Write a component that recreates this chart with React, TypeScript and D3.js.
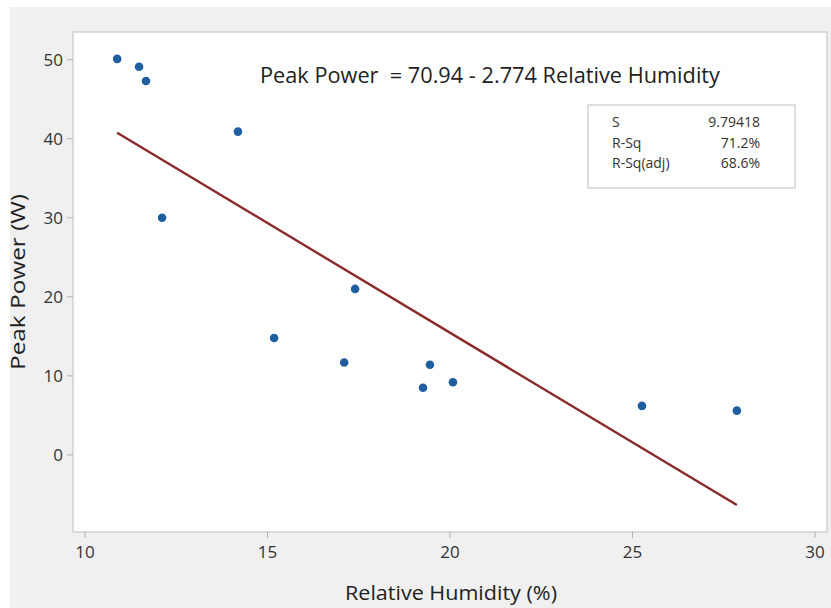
import React from "react";
import * as d3 from "d3";

const humidity = [10.88, 11.48, 11.67, 12.11, 14.19, 15.18, 17.1, 17.4, 19.45, 19.26, 20.08, 25.26, 27.86];
const peakPower = [50.1, 49.1, 47.3, 30.0, 40.9, 14.8, 11.7, 21.0, 11.4, 8.5, 9.2, 6.2, 5.6];
const xTicks = [10, 15, 20, 25, 30];
const yTicks = [0, 10, 20, 30, 40, 50];
const intercept = 70.94;
const slope = -2.774;
const statLabels = ["S", "R-Sq", "R-Sq(adj)"];
const statValues = ["9.79418", "71.2%", "68.6%"];
const equation = "Peak Power  = 70.94 - 2.774 Relative Humidity";
const xTitle = "Relative Humidity (%)";
const yTitle = "Peak Power (W)";

export default function App() {
  const W = 831, H = 608;
  const x = d3.scaleLinear().domain([9.67, 30.33]).range([73, 827]);
  const y = d3.scaleLinear().domain([-9.75, 53.5]).range([532, 32]);
  const [xMin, xMax] = d3.extent(humidity) as [number, number];
  const line = d3.line<number>().x((d) => x(d)).y((d) => y(intercept + slope * d));
  const font = "'Open Sans', 'Noto Sans', sans-serif";
  return (
    <svg width={W} height={H} style={{ position: "absolute", left: 0, top: 0 }} fontFamily={font}>
      <rect x={0} y={0} width={W} height={H} fill="#ffffff" />
      <rect x={10} y={7} width={W - 10} height={H - 7} fill="#f0f0f0" />
      <rect x={73} y={32} width={754} height={500} fill="#ffffff" stroke="#c8c8c8" strokeWidth={1.2} />
      {yTicks.map((t) => (
        <g key={"y" + t}>
          <line x1={67} x2={73} y1={y(t)} y2={y(t)} stroke="#b0b0b0" />
          <text x={63} y={y(t)} dy="0.36em" textAnchor="end" fontSize={17} fill="#333">{t}</text>
        </g>
      ))}
      {xTicks.map((t) => (
        <g key={"x" + t}>
          <line x1={x(t)} x2={x(t)} y1={532} y2={538} stroke="#b0b0b0" />
          <text x={x(t)} y={558} textAnchor="middle" fontSize={17} fill="#333">{t}</text>
        </g>
      ))}
      <path d={line([xMin, xMax]) || ""} stroke="#8b2a2a" strokeWidth={2.4} fill="none" />
      {humidity.map((h, i) => (
        <circle key={i} cx={x(h)} cy={y(peakPower[i])} r={4.3} fill="#1f5f9f" />
      ))}
      <text x={260} y={83} fontSize={21} fill="#222" textLength={460} lengthAdjust="spacingAndGlyphs" style={{ whiteSpace: "pre" }}>{equation}</text>
      <rect x={588} y={105} width={207} height={83} fill="#ffffff" stroke="#bdbdbd" />
      {statLabels.map((s, i) => (
        <g key={s}>
          <text x={612} y={127 + i * 20.5} fontSize={14} fill="#333">{s}</text>
          <text x={760} y={127 + i * 20.5} fontSize={14} fill="#333" textAnchor="end">{statValues[i]}</text>
        </g>
      ))}
      <text x={451} y={600} textAnchor="middle" fontSize={20} fill="#222" textLength={212} lengthAdjust="spacingAndGlyphs">{xTitle}</text>
      <text transform="translate(25,282) rotate(-90)" textAnchor="middle" fontSize={20} fill="#222" textLength={176} lengthAdjust="spacingAndGlyphs">{yTitle}</text>
    </svg>
  );
}
